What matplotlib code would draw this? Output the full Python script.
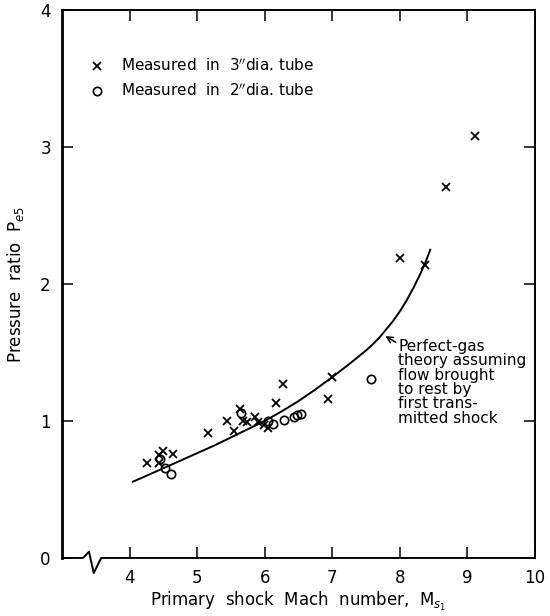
import numpy as np
import matplotlib.pyplot as plt

# measured in 3" dia. tube (crosses)
x3_mach = [4.26, 4.43, 4.50, 4.64, 4.44, 5.16, 5.44, 5.55, 5.64, 5.68, 5.74, 5.86,
           5.90, 5.99, 6.05, 6.17, 6.27, 6.94, 6.99, 8.00, 8.37, 8.69, 9.11]
x3_ratio = [0.69, 0.75, 0.78, 0.76, 0.69, 0.91, 1.00, 0.93, 1.09, 1.00, 0.99, 1.03,
            0.99, 0.97, 0.95, 1.13, 1.27, 1.16, 1.32, 2.19, 2.14, 2.71, 3.08]

# measured in 2" dia. tube (circles)
o2_mach = [4.45, 4.53, 4.62, 5.65, 6.05, 6.13, 6.28, 6.43, 6.48, 6.53, 7.58]
o2_ratio = [0.72, 0.66, 0.61, 1.06, 1.00, 0.98, 1.01, 1.03, 1.04, 1.05, 1.31]

# perfect-gas theory curve
th_mach = [4.05, 4.25, 4.5, 4.75, 5.0, 5.25, 5.5, 5.75, 6.0, 6.25, 6.5, 6.75,
           7.0, 7.25, 7.5, 7.6, 7.7, 7.8, 7.9, 8.0, 8.1, 8.2, 8.3, 8.38, 8.45]
th_ratio = [0.557, 0.60, 0.655, 0.71, 0.765, 0.82, 0.88, 0.94, 1.00, 1.07, 1.145, 1.23,
            1.32, 1.415, 1.515, 1.56, 1.61, 1.67, 1.73, 1.80, 1.88, 1.97, 2.07, 2.16, 2.25]

plt.rcParams['font.family'] = 'DejaVu Sans'

fig = plt.figure(figsize=(5.5, 6.16), dpi=100)
ax = fig.add_axes([0.1127, 0.0942, 0.86, 0.8896])

ax.plot(th_mach, th_ratio, color='black', lw=1.4)
ax.plot(x3_mach, x3_ratio, 'x', color='black', ms=5.5, mew=1.3)
ax.plot(o2_mach, o2_ratio, 'o', mfc='none', mec='black', ms=6, mew=1.2)

ax.set_xlim(3, 10)
ax.set_ylim(0, 4)
ax.set_xticks([4, 5, 6, 7, 8, 9, 10])
ax.set_yticks([0, 1, 2, 3, 4])
ax.set_yticklabels(['0', '1', '2', '3', '4'])
ax.tick_params(direction='in', top=True, right=True, length=8, width=1.1,
               labelsize=12, pad=8)

for s in ['left', 'top', 'right']:
    ax.spines[s].set_linewidth(1.4)
ax.spines['left'].set_linewidth(2.0)
ax.spines['bottom'].set_visible(False)

# broken x axis near the origin
ax.plot([3, 3.31, 3.40, 3.47, 3.58, 10], [0, 0, 0.045, -0.11, 0, 0],
        color='black', lw=1.4, clip_on=False)

# legend
ax.plot([3.52], [3.59], 'x', color='black', ms=5.5, mew=1.3)
ax.plot([3.52], [3.41], 'o', mfc='none', mec='black', ms=6, mew=1.2)
ax.text(3.88, 3.59, 'Measured  in  3$^{\\prime\\prime}$dia. tube', fontsize=11, va='center')
ax.text(3.88, 3.41, 'Measured  in  2$^{\\prime\\prime}$dia. tube', fontsize=11, va='center')

# theory annotation
ax.annotate('Perfect-gas\ntheory assuming\nflow brought\nto rest by\nfirst trans-\nmitted shock',
            xy=(7.75, 1.63), xytext=(7.98, 1.6), fontsize=11, va='top', ha='left',
            linespacing=0.95,
            arrowprops=dict(arrowstyle='->', color='black', lw=1.1,
                            shrinkA=0, shrinkB=2))

ax.set_xlabel('Primary  shock  Mach  number,  M$_{s_1}$', fontsize=12, labelpad=2)
ax.set_ylabel('Pressure  ratio  P$_{e5}$', fontsize=12, labelpad=10)

fig.savefig('out.png', dpi=100)
